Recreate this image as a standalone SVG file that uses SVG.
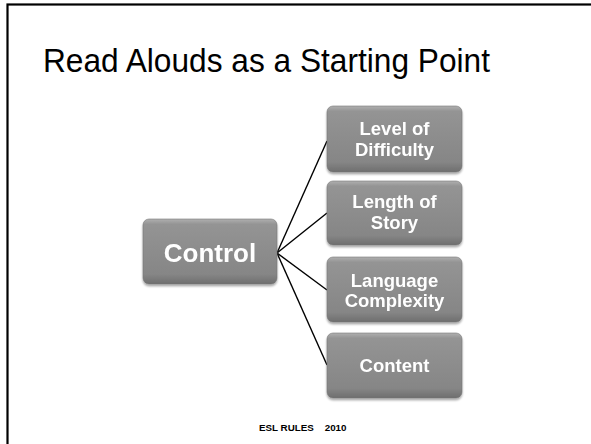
<svg xmlns="http://www.w3.org/2000/svg" width="591" height="444" viewBox="0 0 591 444">
<style>
.box{fill:url(#g);stroke:#777;stroke-width:0.6}
.lbl{font-family:"Liberation Sans",Arial,sans-serif;font-weight:bold;fill:#fff;text-anchor:middle}
.s{font-size:18.5px}
.c{stroke:#000;stroke-width:1.4;fill:none}
</style>
<defs>
<linearGradient id="g" x1="0" y1="0" x2="0" y2="1">
<stop offset="0" stop-color="#b0b0b0"/>
<stop offset="0.08" stop-color="#949494"/>
<stop offset="0.85" stop-color="#868686"/>
<stop offset="1" stop-color="#6e6e6e"/>
</linearGradient>
<filter id="sh" x="-10%" y="-10%" width="120%" height="130%">
<feGaussianBlur in="SourceAlpha" stdDeviation="1.2"/>
<feOffset dy="1.5"/>
<feComponentTransfer><feFuncA type="linear" slope="0.35"/></feComponentTransfer>
<feMerge><feMergeNode/><feMergeNode in="SourceGraphic"/></feMerge>
</filter>
</defs>
<rect x="0" y="0" width="591" height="444" fill="#fff"/>
<rect x="7.5" y="4.5" width="700" height="600" fill="none" stroke="#000" stroke-width="2.2"/>
<text x="43" y="72" font-family="'Liberation Sans',Arial,sans-serif" font-size="34" fill="#000" textLength="447" lengthAdjust="spacingAndGlyphs">Read Alouds as a Starting Point</text>
<g id="connectors">
<line class="c" x1="277" y1="253" x2="327" y2="141"/>
<line class="c" x1="277" y1="253" x2="327" y2="213"/>
<line class="c" x1="277" y1="253" x2="327" y2="290"/>
<line class="c" x1="277" y1="253" x2="327" y2="365"/>
</g>
<g id="control" filter="url(#sh)">
<rect class="box" x="143" y="219" width="134" height="65" rx="6"/>
<text class="lbl" x="210" y="262" font-size="26">Control</text>
</g>
<g id="level" filter="url(#sh)">
<rect class="box" x="327" y="106" width="135" height="66" rx="6"/>
<text class="lbl s" x="394.5" y="135">Level of</text>
<text class="lbl s" x="394.5" y="156">Difficulty</text>
</g>
<g id="length" filter="url(#sh)">
<rect class="box" x="327" y="181" width="135" height="64" rx="6"/>
<text class="lbl s" x="394.5" y="208">Length of</text>
<text class="lbl s" x="394.5" y="229">Story</text>
</g>
<g id="language" filter="url(#sh)">
<rect class="box" x="327" y="257" width="135" height="65" rx="6"/>
<text class="lbl s" x="394.5" y="287">Language</text>
<text class="lbl s" x="394.5" y="307">Complexity</text>
</g>
<g id="content" filter="url(#sh)">
<rect class="box" x="327" y="333" width="135" height="65" rx="6"/>
<text class="lbl s" x="394.5" y="372">Content</text>
</g>
<text x="259" y="431" font-family="'Liberation Sans',Arial,sans-serif" font-size="9.8" font-weight="bold" fill="#000" xml:space="preserve">ESL RULES    2010</text>
</svg>
